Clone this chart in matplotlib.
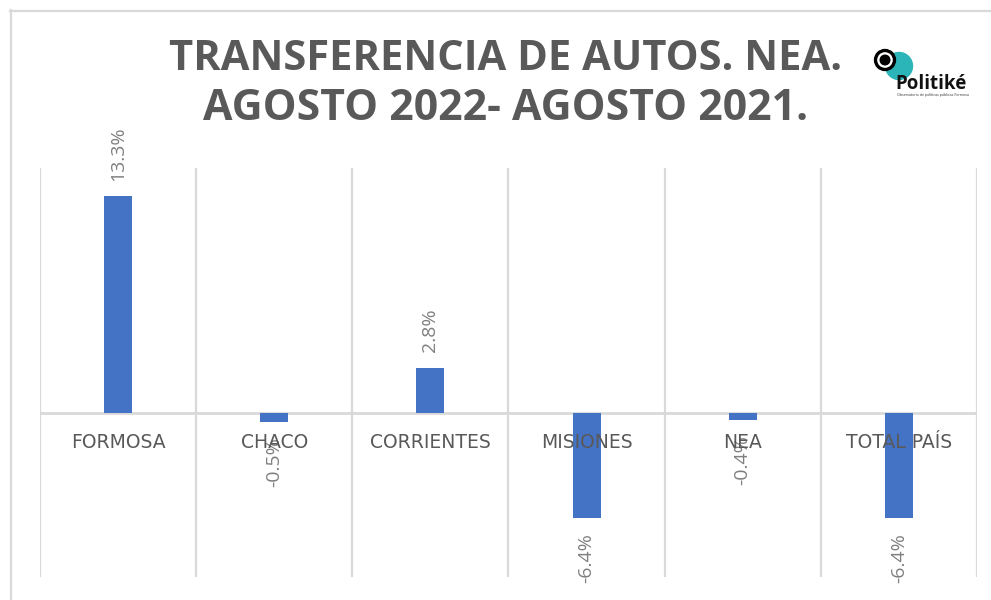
import matplotlib
matplotlib.use("Agg")
import matplotlib.pyplot as plt
from matplotlib.patches import Circle
from matplotlib.lines import Line2D

categories = ["FORMOSA", "CHACO", "CORRIENTES", "MISIONES", "NEA", "TOTAL PAÍS"]
values = [13.3, -0.5, 2.8, -6.4, -0.4, -6.4]
value_labels = ["13.3%", "-0.5%", "2.8%", "-6.4%", "-0.4%", "-6.4%"]
title_lines = ["TRANSFERENCIA DE AUTOS. NEA.", "AGOSTO 2022- AGOSTO 2021."]

W, H = 991, 600
fig = plt.figure(figsize=(W / 100, H / 100), dpi=100)
fig.patch.set_facecolor("white")

GRID = "#d9d9d9"
TXT = "#595959"
BAR = "#4472C4"

# overlay in pixel coordinates for frame/logo
ov = fig.add_axes([0, 0, 1, 1], zorder=0)
ov.set_xlim(0, W)
ov.set_ylim(H, 0)
ov.axis("off")
ov.add_line(Line2D([10.5, 10.5], [10, H + 5], color=GRID, lw=1.6))
ov.add_line(Line2D([10, W + 5], [10.5, 10.5], color=GRID, lw=1.6))

# main axes
ax = fig.add_axes([40 / W, (H - 577) / H, 937 / W, 409 / H], zorder=2)
ax.patch.set_alpha(0)
x = list(range(len(categories)))
ax.bar(x, values, width=0.18, color=BAR, zorder=3)
ax.set_xlim(-0.5, len(categories) - 0.5)
ax.set_ylim(-10, 15)
for s in ax.spines.values():
    s.set_visible(False)
ax.set_xticks([i - 0.5 for i in range(len(categories) + 1)])
ax.set_xticklabels([])
ax.set_yticks([])
ax.tick_params(length=0)
ax.grid(axis="x", color=GRID, lw=1.6, zorder=0)
ax.axhline(0, color=GRID, lw=2.0, zorder=1)

for i, (v, lab) in enumerate(zip(values, value_labels)):
    off = 11 if v >= 0 else -11
    ax.annotate(lab, (i, v), xytext=(0, off), textcoords="offset points",
                rotation=90, ha="center", va="bottom" if v >= 0 else "top",
                color="#7f7f7f", fontsize=14, family="Open Sans", zorder=4)

for i, c in enumerate(categories):
    ax.annotate(c, (i, 0), xytext=(0, -14), textcoords="offset points",
                ha="center", va="top", color=TXT, fontsize=13.5,
                family="DejaVu Sans", zorder=5)

# title
fig.canvas.draw()
renderer = fig.canvas.get_renderer()
targets = [673, 603]
ys = [59, 109]
for line, tw, yy in zip(title_lines, targets, ys):
    t = fig.text(506 / W, 1 - yy / H, line, ha="center", va="center",
                 fontsize=30, fontweight="bold", color=TXT,
                 family="Open Sans")
    bb = t.get_window_extent(renderer)
    t.set_fontsize(30 * tw / bb.width)

# logo
ov.add_patch(Circle((899, 66), 13.5, color="#2bb5b8", zorder=2))
ov.add_patch(Circle((885, 60), 9.5, facecolor="white", edgecolor="black", lw=2.4, zorder=3))
ov.add_patch(Circle((885, 60), 4.8, color="black", zorder=4))
ov.text(895, 89, "Politiké", fontsize=13.5, fontweight="bold", color="#111111",
        family="Open Sans", ha="left", va="baseline", zorder=5)
ov.text(897, 95, "Observatorio de políticas públicas Formosa", fontsize=2.6,
        color="#333333", family="Open Sans", ha="left", va="center", zorder=5)

fig.savefig("out.png", dpi=100, facecolor="white")
